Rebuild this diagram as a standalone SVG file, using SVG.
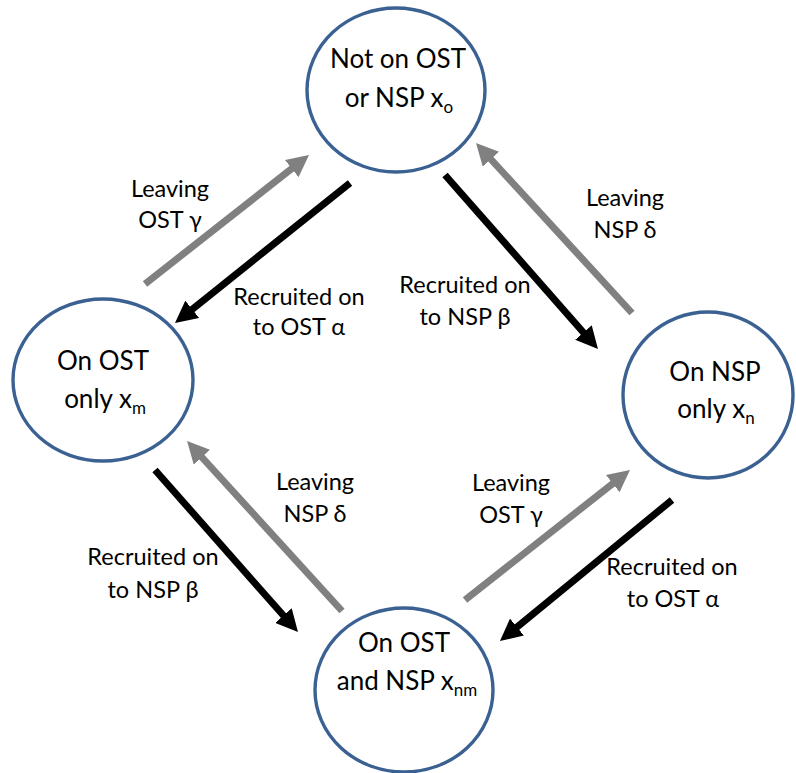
<svg xmlns="http://www.w3.org/2000/svg" width="796" height="773" viewBox="0 0 796 773">
<style>
.node ellipse{fill:#fff;stroke:#3a6192;stroke-width:3.4}
.nt{font-family:Lato,"Open Sans","Liberation Sans",sans-serif;font-size:26px;fill:#000;text-anchor:middle}
.lb{font-family:Lato,"Open Sans","Liberation Sans",sans-serif;font-size:23.5px;fill:#000;text-anchor:middle}
.sub{font-size:17px}
.g{stroke:#808080;stroke-width:7;fill:none;marker-end:url(#hg)}
.k{stroke:#000;stroke-width:7;fill:none;marker-end:url(#hk)}
</style>
<defs>
<marker id="hg" markerUnits="userSpaceOnUse" viewBox="0 0 22 22" markerWidth="22" markerHeight="22" refX="1" refY="11" orient="auto"><path d="M0,0 L22,11 L0,22 z" fill="#808080"/></marker>
<marker id="hk" markerUnits="userSpaceOnUse" viewBox="0 0 22 22" markerWidth="22" markerHeight="22" refX="1" refY="11" orient="auto"><path d="M0,0 L22,11 L0,22 z" fill="#000"/></marker>
</defs>
<rect width="796" height="773" fill="#fff"/>
<g id="connectors">
<line class="g" x1="145" y1="284" x2="292.5" y2="168"/>
<line class="k" x1="350" y1="183" x2="191.4" y2="309.9"/>
<line class="k" x1="445" y1="175" x2="584.1" y2="333.2"/>
<line class="g" x1="632" y1="313" x2="490.2" y2="158.5"/>
<line class="k" x1="155" y1="470" x2="284.1" y2="616.3"/>
<line class="g" x1="342" y1="611" x2="201.2" y2="456.5"/>
<line class="g" x1="465" y1="600" x2="613.5" y2="483"/>
<line class="k" x1="672" y1="500" x2="516.2" y2="627.7"/>
</g>
<g id="labels">
<text class="lb" x="170" y="197">Leaving</text>
<text class="lb" x="170" y="228">OST γ</text>
<text class="lb" x="299" y="305">Recruited on</text>
<text class="lb" x="299" y="335">to OST α</text>
<text class="lb" x="465" y="293">Recruited on</text>
<text class="lb" x="465" y="325">to NSP β</text>
<text class="lb" x="625" y="206">Leaving</text>
<text class="lb" x="625" y="238">NSP δ</text>
<text class="lb" x="315" y="490">Leaving</text>
<text class="lb" x="315" y="522">NSP δ</text>
<text class="lb" x="153" y="565">Recruited on</text>
<text class="lb" x="153" y="598">to NSP β</text>
<text class="lb" x="511" y="491">Leaving</text>
<text class="lb" x="511" y="523">OST γ</text>
<text class="lb" x="672" y="575">Recruited on</text>
<text class="lb" x="673" y="607">to OST α</text>
</g>
<g id="node-xo" class="node">
<ellipse cx="396" cy="90" rx="89" ry="82"/>
<text class="nt" x="398" y="68">Not on OST</text>
<text class="nt" x="399" y="107">or NSP x<tspan class="sub" dy="6">o</tspan></text>
</g>
<g id="node-xm" class="node">
<ellipse cx="103" cy="380" rx="90" ry="81"/>
<text class="nt" x="103" y="370">On OST</text>
<text class="nt" x="105" y="408">only x<tspan class="sub" dy="6">m</tspan></text>
</g>
<g id="node-xn" class="node">
<ellipse cx="708" cy="395" rx="85" ry="83"/>
<text class="nt" x="715" y="381">On NSP</text>
<text class="nt" x="716" y="418">only x<tspan class="sub" dy="6">n</tspan></text>
</g>
<g id="node-xnm" class="node">
<ellipse cx="404" cy="690" rx="89" ry="82"/>
<text class="nt" x="404" y="652">On OST</text>
<text class="nt" x="407" y="690">and NSP x<tspan class="sub" dy="6">nm</tspan></text>
</g>
</svg>
